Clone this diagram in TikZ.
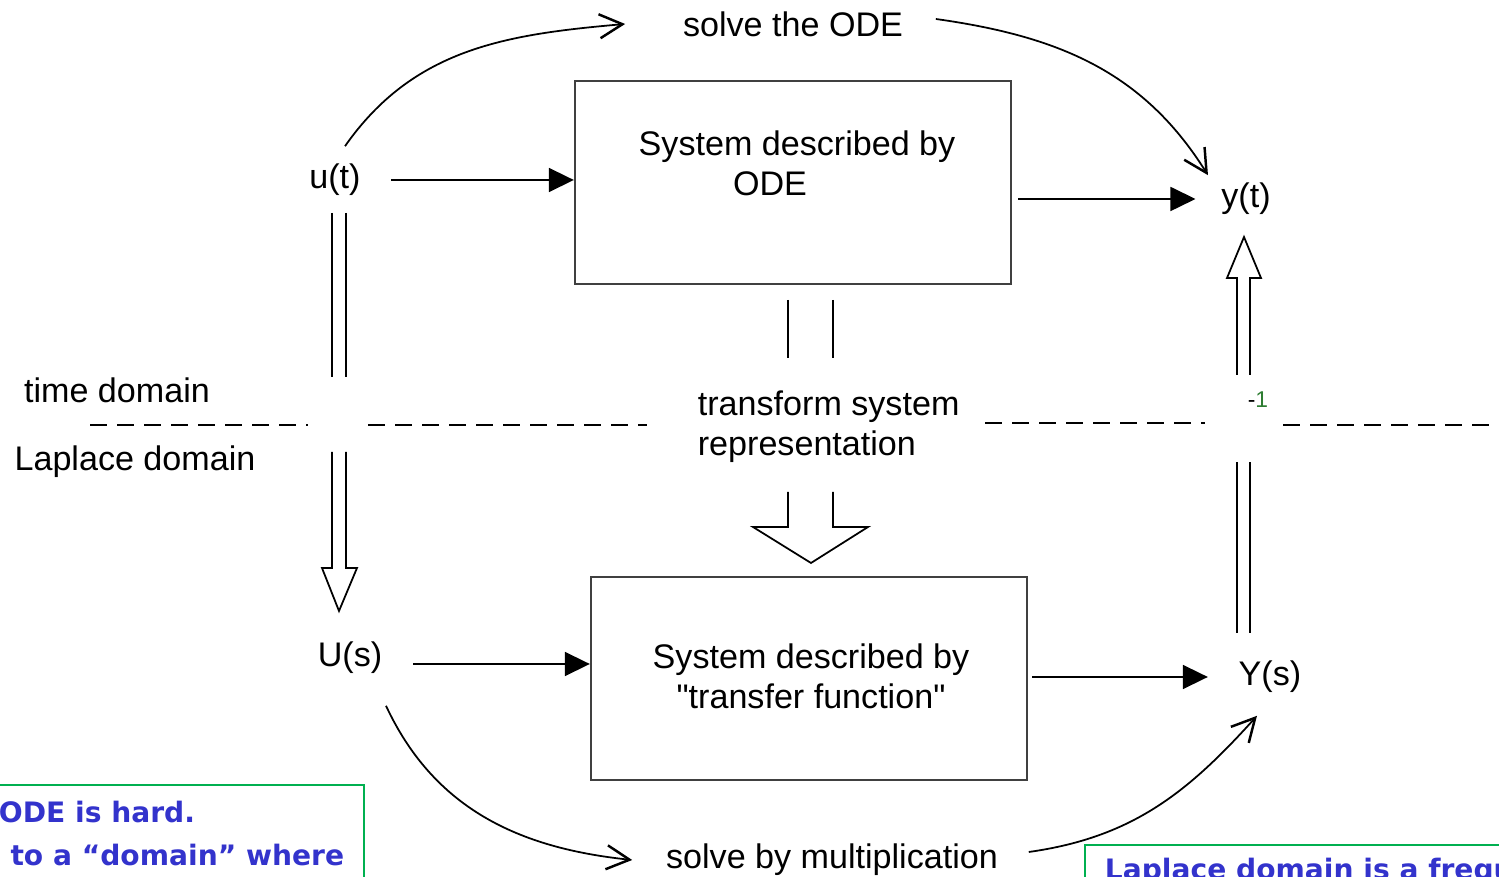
\documentclass[tikz,border=0pt]{standalone}
\usepackage{fontspec}
\setmainfont{Liberation Sans}
\newfontfamily\notefont{DejaVu Sans}
\usetikzlibrary{arrows.meta}
\definecolor{noteblue}{RGB}{51,51,204}
\definecolor{notegreen}{RGB}{0,176,80}
\definecolor{invgreen}{RGB}{46,125,50}

\begin{document}
\begin{tikzpicture}[x=0.01cm, y=-0.01cm, line width=0.5pt,
	sysbox/.style={draw=black!75, line width=0.6pt, minimum width=4.36cm, minimum height=2.03cm, inner sep=0pt},
	sig/.style={inner xsep=0.3cm, inner ysep=2pt},
	feed/.style={-{Triangle[length=2.5mm, width=2.4mm]}},
	solve/.style={-{Straight Barb[length=2.3mm, width=2.4mm, line width=0.7pt]}},
	border/.style={dash pattern=on 0.17cm off 0.1cm},
	note/.style={draw=notegreen, line width=0.8pt},
	notetext/.style={text=noteblue, font=\notefont\bfseries\fontsize{8}{10}\selectfont, inner sep=0pt}]
	\tikzstyle{every node}=[font=\fontsize{9.7}{11.4}\selectfont, align=center]
		\useasboundingbox (0,0) rectangle (1499,877);
		\node[sysbox] (ode) at (793,182.5) {};
		\node (odetxt) at (797,163) {System described by\\\hspace*{-0.54cm}ODE};
		\node[sysbox] (tf) at (809,678.5) {};
		\node (tftxt) at (811,676) {System described by\\\textquotedbl transfer function\textquotedbl};
		\node[sig] (ut) at (335,180) {u(t)};
		\node[sig, inner xsep=0.25cm] (yt) at (1246,199) {y(t)};
		\node[sig] (Us) at (350,658) {U(s)};
		\node[sig] (Ys) at (1270,677) {Y(s)};
		\node[inner sep=0pt] (odesolve) at (793,24) {solve the ODE};
		\node[inner sep=0pt] (mulsolve) at (832,860) {solve by multiplication};
		\node (time) at (117,390) {time domain};
		\node (laplace) at (135,462) {Laplace domain};
		\node[align=left, anchor=west, inner sep=0pt] (trans) at (697,427) {transform system\\representation};
		\node[font=\fontsize{6.5}{7}\selectfont] (inv) at (1258,400) {-\textcolor{invgreen}{1}};

		\draw[feed] (ut.east) -- (ut.east -| ode.west);
		\draw[feed, shorten <=0.06cm] (ode.east |- yt.west) -- (yt.west);
		\draw[feed] ([yshift=-0.06cm]Us.east) -- ([yshift=-0.06cm]Us.east -| tf.west);
		\draw[feed, shorten <=0.04cm] (tf.east |- Ys.west) -- (Ys.west);

		\draw[solve] ([xshift=0.1cm, yshift=0.1cm]ut.north) to[out=55, in=185] ([xshift=-0.57cm]odesolve.west);
		\draw[solve] ([xshift=0.32cm, yshift=0.05cm]odesolve.east) to[out=-8, in=122] ([xshift=-0.38cm]yt.north);
		\draw[solve] ([xshift=0.36cm, yshift=-0.24cm]Us.south) to[out=-65, in=174] ([xshift=-0.33cm]mulsolve.west);
		\draw[solve] ([xshift=0.3cm, yshift=0.08cm]mulsolve.east) to[out=8, in=228] ([xshift=-0.13cm, yshift=-0.15cm]Ys.south);

		\draw (332,213) -- (332,377) (346,213) -- (346,377);
		\draw (332,452) -- (332,568) -- (322,568) -- (339,611) -- (357,568) -- (346,568) -- (346,452);
		\draw (788,300) -- (788,358) (833,300) -- (833,358);
		\draw (788,492) -- (788,527) -- (753,527) -- (811,563) -- (868,527) -- (833,527) -- (833,492);
		\draw (1237,633) -- (1237,462) (1250,633) -- (1250,462);
		\draw (1237,375) -- (1237,278) -- (1227,278) -- (1244,237) -- (1261,278) -- (1250,278) -- (1250,375);

		\draw[border] (90,425) -- (308,425);
		\draw[border] (368,425) -- (647,425);
		\draw[border] (985,423) -- (1205,423);
		\draw[border] (1283,425) -- (1499,425);

		\draw[note] (-10,785) rectangle (364,900);
		\node[notetext, anchor=base west] (hard) at (-2,823) {ODE is hard.};
		\node[notetext, anchor=base east] (where) at (345,866) {n to a “domain” where};
		\draw[note] (1085,845) rectangle (1520,900);
		\node[notetext, anchor=base west] (freq) at (1104,880) {Laplace domain is a frequ};
	\end{tikzpicture}
\end{document}
